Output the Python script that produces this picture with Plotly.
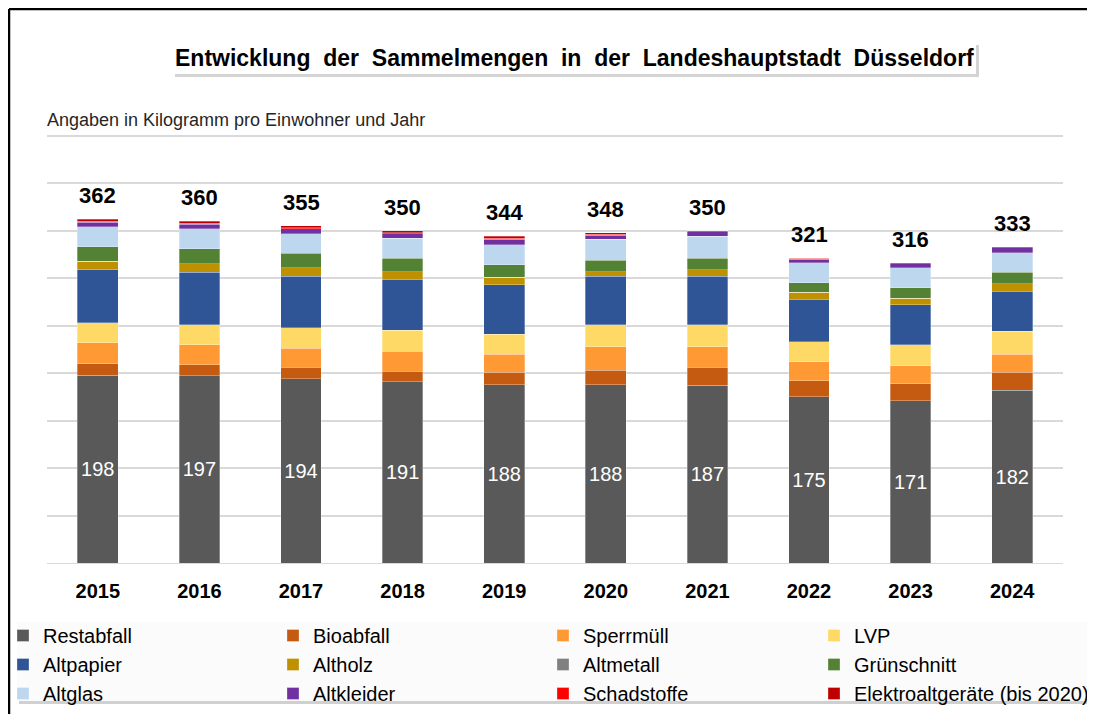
import plotly.graph_objects as go

years = ["2015", "2016", "2017", "2018", "2019", "2020", "2021", "2022", "2023", "2024"]
totals = [362, 360, 355, 350, 344, 348, 350, 321, 316, 333]

restabfall = [198, 197, 194, 191, 188, 188, 187, 175, 171, 182]
bioabfall = [12, 12, 12, 11, 13, 15, 19, 17, 18, 19]
sperrmuell = [22, 21, 20, 21, 19, 25, 22, 20, 19, 19]
lvp = [21, 21, 22, 22, 21, 23, 23, 21, 22, 24]
altpapier = [56, 55, 54, 54, 52, 51, 51, 45, 42, 42]
altholz = [9, 9, 9, 8, 8, 5, 7, 7, 7, 8]
altmetall = [0, 0, 0, 0, 0, 0, 0, 0, 0, 0]
gruenschnitt = [15, 16, 15, 14, 13, 12, 12, 10, 11, 12]
altglas = [21, 21, 21, 21, 21, 22, 23, 21, 21, 21]
altkleider = [5, 5, 5, 5, 6, 4, 5, 4, 4, 5]
schadstoffe = [1, 1, 1, 1, 1, 1, 1, 1, 1, 1]
elektro = [2, 2, 2, 2, 2, 2, 0, 0, 0, 0]

# (name, values, colour, legend column)
series = [
    ("Restabfall", restabfall, "#595959", "legend"),
    ("Bioabfall", bioabfall, "#C55A11", "legend2"),
    ("Sperrmüll", sperrmuell, "#FF9933", "legend3"),
    ("LVP", lvp, "#FFD966", "legend4"),
    ("Altpapier", altpapier, "#2F5597", "legend"),
    ("Altholz", altholz, "#BF9000", "legend2"),
    ("Altmetall", altmetall, "#808080", "legend3"),
    ("Grünschnitt", gruenschnitt, "#548235", "legend4"),
    ("Altglas", altglas, "#BDD7EE", "legend"),
    ("Altkleider", altkleider, "#7030A0", "legend2"),
    ("Schadstoffe", schadstoffe, "#FF0000", "legend3"),
    ("Elektroaltgeräte (bis 2020)", elektro, "#C00000", "legend4"),
]

FONT = "Liberation Sans, Arial, sans-serif"

# page has an 8px body margin; work in screen coordinates
OFF = 8
W, H = 1087, 706
YMAX = 455
# plot area in screen coords: x 47..1063, baseline y 563, 0.9495 px per unit
PX0, PX1, PY0 = 47, 1063, 563
PPU = 0.9495
L = PX0 - OFF
R = W - (PX1 - OFF)
B = H - (PY0 - OFF)
T = H - B - round(YMAX * PPU)
pw = W - L - R
ph = H - T - B


def sx(x):
    return (x - OFF - L) / pw


def sy(y):
    return (H - B - (y - OFF)) / ph


fig = go.Figure()
for i, (name, vals, col, leg) in enumerate(series):
    kw = {}
    if i == 0:
        kw = dict(text=vals, textposition="inside",
                  insidetextanchor="middle", textangle=0,
                  textfont=dict(color="white", size=20, family=FONT))
    fig.add_trace(go.Bar(
        x=years, y=vals, name=name, legend=leg,
        marker=dict(color=col, line=dict(color="rgba(255,255,255,0.5)", width=0.6)),
        **kw,
    ))

for i, tot in enumerate(totals):
    fig.add_annotation(x=i, y=tot, xref="x", yref="y", text=f"<b>{tot}</b>",
                       showarrow=False, yanchor="bottom", yshift=9,
                       font=dict(size=22, color="black", family=FONT))

# title with shadow
title = "Entwicklung\u00a0 der\u00a0 Sammelmengen\u00a0 in\u00a0 der\u00a0 Landeshauptstadt\u00a0 Düsseldorf"
fig.add_shape(type="rect", xref="paper", yref="paper",
              x0=sx(175), x1=sx(979), y0=sy(77), y1=sy(45),
              fillcolor="#d4d4d4", line=dict(width=0), layer="above")
fig.add_shape(type="rect", xref="paper", yref="paper",
              x0=sx(172), x1=sx(976), y0=sy(74), y1=sy(42),
              fillcolor="white", line=dict(width=0), layer="above")
fig.add_annotation(xref="paper", yref="paper", x=sx(574), y=sy(58),
                   text=f"<b>{title}</b>", showarrow=False,
                   xanchor="center", yanchor="middle",
                   font=dict(size=23, color="black", family=FONT))

fig.add_annotation(xref="paper", yref="paper", x=sx(45), y=sy(120),
                   text="Angaben in Kilogramm pro Einwohner und Jahr", showarrow=False,
                   xanchor="left", yanchor="middle",
                   font=dict(size=18, color="#262626", family=FONT))

# legend background with shadow
fig.add_shape(type="rect", xref="paper", yref="paper",
              x0=sx(19), x1=sx(1110), y0=sy(704), y1=sy(625),
              fillcolor="#d0d0d0", line=dict(width=0), layer="below")
fig.add_shape(type="rect", xref="paper", yref="paper",
              x0=sx(17), x1=sx(1110), y0=sy(701), y1=sy(622),
              fillcolor="#fbfbfb", line=dict(width=0), layer="below")

# outer frame
fig.add_shape(type="line", xref="paper", yref="paper",
              x0=sx(9), x1=sx(9), y0=sy(9), y1=sy(730),
              line=dict(color="black", width=2.5))
fig.add_shape(type="line", xref="paper", yref="paper",
              x0=sx(9), x1=sx(1110), y0=sy(9), y1=sy(9),
              line=dict(color="black", width=2.5))

leg_common = dict(orientation="v", yanchor="top", xanchor="left",
                  traceorder="normal", bgcolor="rgba(0,0,0,0)",
                  font=dict(size=20, color="black", family=FONT),
                  itemclick=False, itemdoubleclick=False)
legend_lefts = [3, 273, 543, 814]
layout_legends = {}
for k, lx in zip(["legend", "legend2", "legend3", "legend4"], legend_lefts):
    layout_legends[k] = dict(x=sx(lx), y=sy(616), **leg_common)

fig.update_layout(
    width=W, height=H,
    margin=dict(l=L, r=R, t=T, b=B, autoexpand=False),
    barmode="stack",
    bargap=0.6,
    plot_bgcolor="white",
    paper_bgcolor="white",
    font=dict(family=FONT, color="black"),
    showlegend=True,
    xaxis=dict(type="category", range=[-0.5, 9.5], showgrid=False, showline=True,
               linecolor="#d9d9d9", linewidth=1, ticks="outside", ticklen=10,
               tickcolor="rgba(0,0,0,0)", automargin=False,
               tickfont=dict(size=20, color="black", family=FONT, weight="bold")),
    yaxis=dict(range=[0, YMAX], dtick=50, showgrid=True, gridcolor="#d9d9d9",
               gridwidth=1.5, showticklabels=False, zeroline=False, ticks="",
               automargin=False),
    **layout_legends,
)

fig.write_html("out.html")
